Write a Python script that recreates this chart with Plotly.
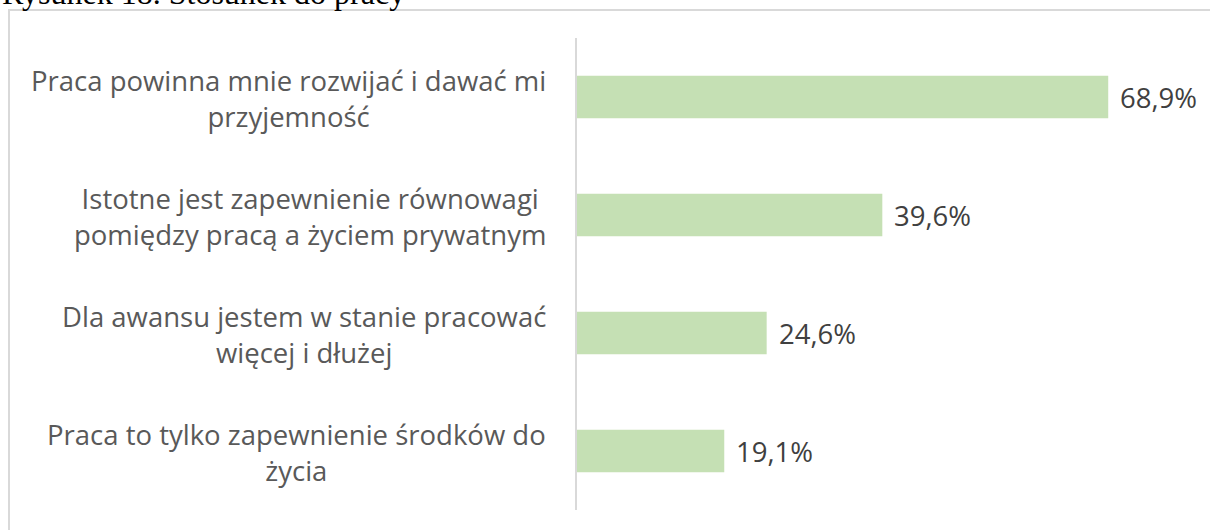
import plotly.graph_objects as go

# data
categories = [
    "Praca powinna mnie rozwijać i dawać mi<br>przyjemność",
    "Istotne jest zapewnienie równowagi<br>pomiędzy pracą a życiem prywatnym",
    "Dla awansu jestem w stanie pracować<br>więcej i dłużej",
    "Praca to tylko zapewnienie środków do<br>życia",
]
values = [68.9, 39.6, 24.6, 19.1]
title_text = "Rysunek 18. Stosunek do pracy"

BAR_COLOR = "#c5e0b4"
LABEL_COLOR = "#595959"
VALUE_COLOR = "#404040"
FONT = "Open Sans"

fig = go.Figure(
    go.Bar(
        x=values,
        y=categories,
        orientation="h",
        marker=dict(color=BAR_COLOR, line=dict(width=0)),
        hoverinfo="skip",
    )
)

# category labels, block right aligned next to the axis, lines centred
for cat in categories:
    fig.add_annotation(
        x=0, xref="paper", y=cat, yref="y",
        text=cat, showarrow=False,
        xanchor="right", align="center", xshift=-29, yshift=-1,
        font=dict(family=FONT, size=27.5, color=LABEL_COLOR),
    )

# value labels to the right of each bar
for cat, val in zip(categories, values):
    fig.add_annotation(
        x=val, xref="x", y=cat, yref="y",
        text=f"{val:.1f}%".replace(".", ","), showarrow=False,
        xanchor="left", xshift=10,
        font=dict(family=FONT, size=27.5, color=VALUE_COLOR),
    )

# caption above the frame, cut by the top edge as in the source
fig.add_annotation(
    x=0, xref="paper", xshift=-577, xanchor="left",
    y=1, yref="paper", yanchor="bottom", yshift=25,
    text=title_text, showarrow=False,
    font=dict(family="Liberation Serif", size=32, color="#000000"),
)

# chart frame
fig.add_shape(
    type="rect", xref="paper", yref="paper",
    x0=-0.8973, x1=1.05, y0=-0.2, y1=1.0593,
    line=dict(color="#d9d9d9", width=2), layer="below",
)

fig.update_layout(
    width=1210,
    height=530,
    margin=dict(l=577, r=0, t=38, b=20),
    paper_bgcolor="white",
    plot_bgcolor="white",
    bargap=0.64,
    showlegend=False,
    xaxis=dict(range=[0, 82.1], visible=False, showgrid=False, zeroline=False),
    yaxis=dict(
        autorange="reversed",
        showticklabels=False,
        showgrid=False,
        zeroline=False,
        showline=True,
        linecolor="#d9d9d9",
        linewidth=2,
        ticks="",
    ),
)

fig.write_html(
    "out.html",
    config={"displayModeBar": False},
    post_script="document.body.style.margin='0';",
)
